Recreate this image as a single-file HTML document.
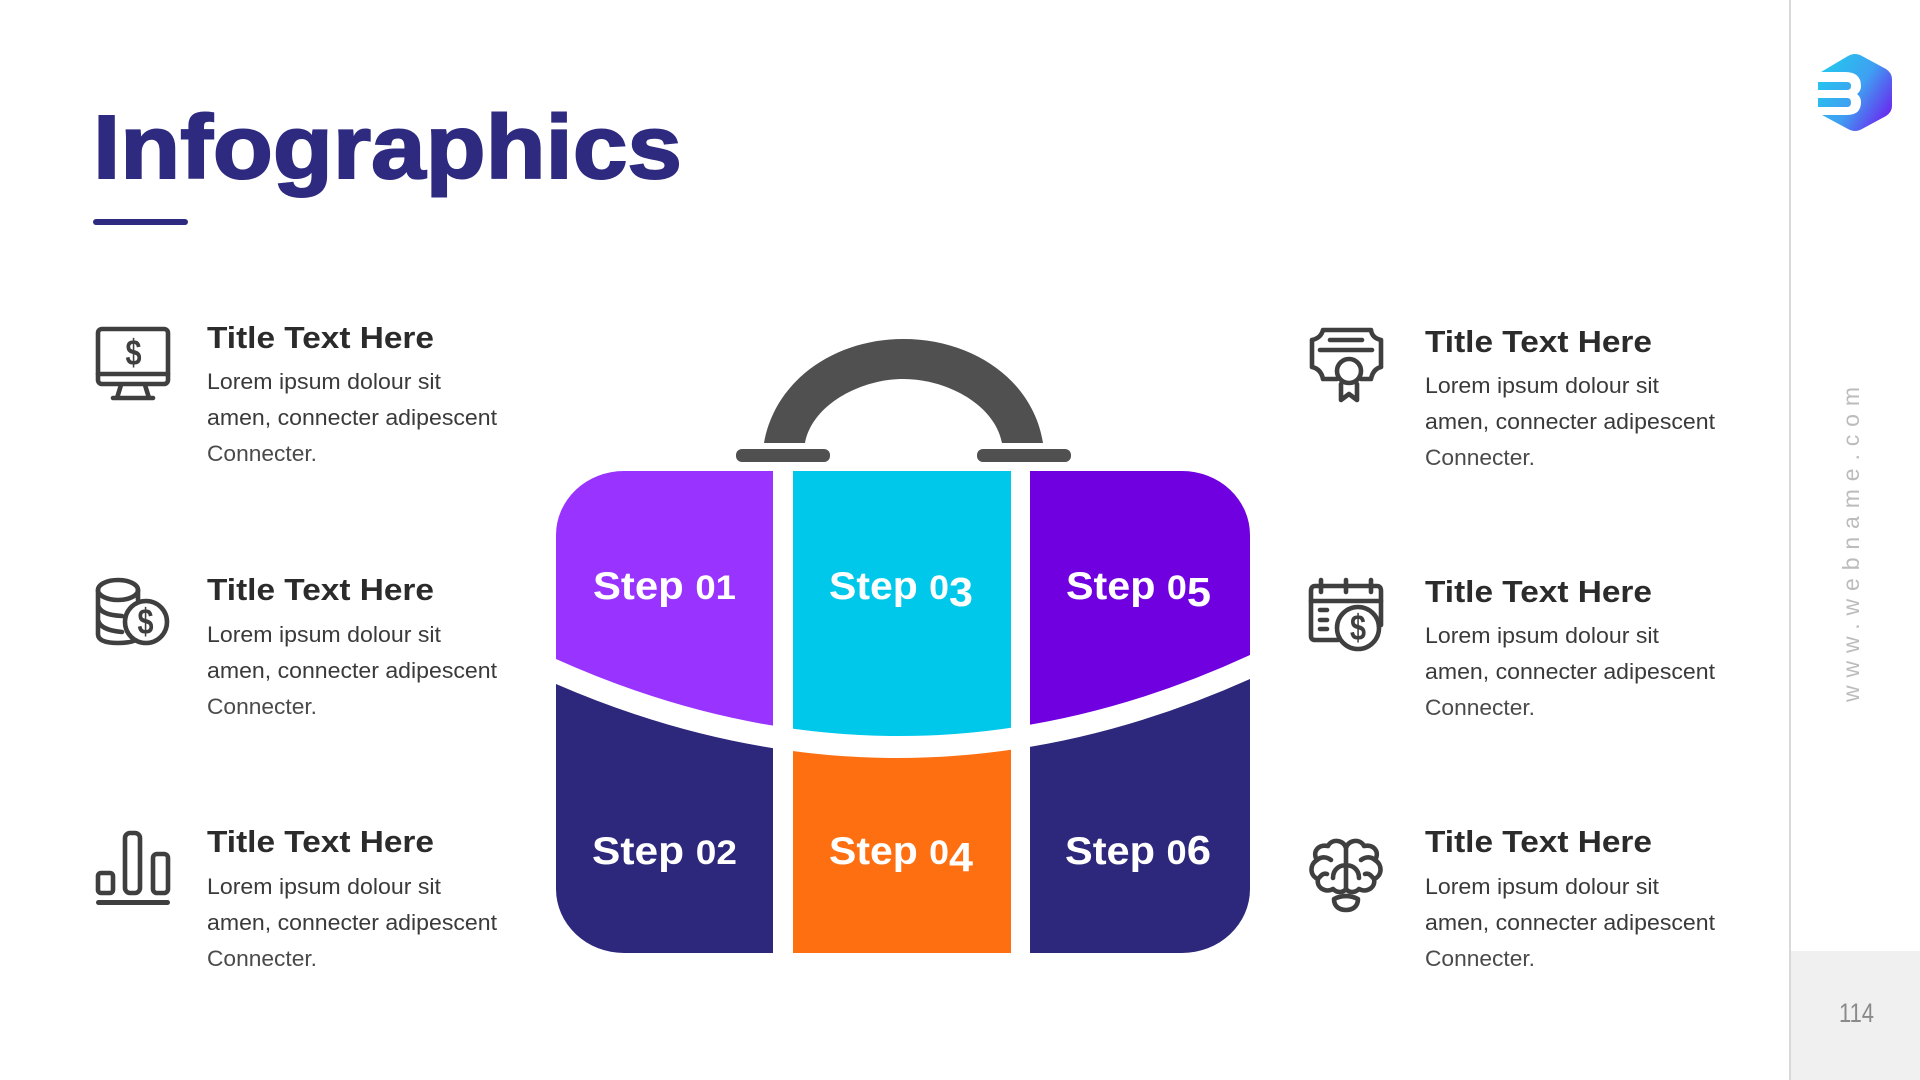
<!DOCTYPE html>
<html><head><meta charset="utf-8"><title>Infographics</title>
<style>
html,body{margin:0;padding:0;background:#fff;width:1920px;height:1080px;overflow:hidden}
svg{display:block}
text{font-family:"Liberation Sans",sans-serif}
.t{font-size:31px;font-weight:700;fill:#2b2b2b}
.b{font-size:22px;fill:#3a3a3a}
.c{font-size:22px;fill:#4a4a4a}
.s{font-size:39px;font-weight:700;fill:#fff}
.d{font-size:34px}
.dl{font-size:41px}
.i{fill:none;stroke:#3f3f3f;stroke-width:4.6;stroke-linecap:round;stroke-linejoin:round}
.m{font-size:36px;font-weight:700;fill:#3f3f3f}
</style></head><body>
<svg width="1920" height="1080" viewBox="0 0 1920 1080" xmlns="http://www.w3.org/2000/svg">
<defs>
<clipPath id="bag"><rect x="556" y="471" width="694" height="482" rx="68" ry="64"/></clipPath>
<clipPath id="top"><path d="M556 471H1250V655Q903 815 556 659Z"/></clipPath>
<clipPath id="bot"><path d="M556 684Q903 834.5 1250 679V953H556Z"/></clipPath>
<linearGradient id="lg" gradientUnits="userSpaceOnUse" x1="1825" y1="70" x2="1892" y2="112"><stop offset="0" stop-color="#25c4ee"/><stop offset=".5" stop-color="#3f9ff2"/><stop offset="1" stop-color="#6a28ee"/></linearGradient>
</defs>
<rect width="1920" height="1080" fill="#fff"/>

<!-- title -->
<text x="93" y="178" font-size="90" font-weight="700" fill="#2e2a80" stroke="#2e2a80" stroke-width="2" textLength="589" lengthAdjust="spacingAndGlyphs">Infographics</text>
<rect x="93" y="219" width="95" height="6" rx="3" fill="#2e2a80"/>

<!-- sidebar -->
<rect x="1789" y="0" width="2" height="1080" fill="#d9d9d9"/>
<rect x="1791" y="951" width="129" height="129" fill="#f0f0f0"/>
<text x="1839" y="1022" font-size="27" fill="#8a8a8a" textLength="35" lengthAdjust="spacingAndGlyphs">114</text>
<text transform="translate(1859,702) rotate(-90)" font-size="23" fill="#bcbcbc" textLength="315" lengthAdjust="spacing">www.webname.com</text>

<!-- logo -->
<path d="M1848 56Q1855 52 1862 56L1886 69Q1892 73 1892 79V106Q1892 112 1886 116L1862 129Q1855 133 1848 129L1822 115L1821 72Z" fill="url(#lg)"/>
<path d="M1810 72H1845Q1861 72 1861 86Q1861 91 1857 94Q1861 97 1861 102Q1861 115 1847 115H1810Z" fill="#fff"/>
<path d="M1818 82H1847Q1851 82 1851 86Q1851 90 1847 90H1818Z" fill="url(#lg)"/>
<path d="M1818 98H1847Q1851 98 1851 102.500Q1851 107 1847 107H1818Z" fill="url(#lg)"/>

<!-- handle -->
<path d="M764 443C775 380 835 339 903.500 339C973 339 1033 380 1043 443H1002C995 405 947 379 903.500 379C860 379 812 405 805 443Z" fill="#505050"/>
<rect x="736" y="449" width="94" height="13" rx="6" fill="#505050"/>
<rect x="977" y="449" width="94" height="13" rx="6" fill="#505050"/>

<!-- bag -->
<g clip-path="url(#bag)">
<g clip-path="url(#top)">
<rect x="556" y="471" width="217" height="300" fill="#9933ff"/>
<rect x="793" y="471" width="218" height="300" fill="#00c8eb"/>
<rect x="1030" y="471" width="220" height="300" fill="#7000e0"/>
</g>
<g clip-path="url(#bot)">
<rect x="556" y="660" width="217" height="293" fill="#2d287c"/>
<rect x="793" y="660" width="218" height="293" fill="#fd6f10"/>
<rect x="1030" y="660" width="220" height="293" fill="#2d287c"/>
</g>
</g>

<text class="s" x="593" y="599" textLength="143" lengthAdjust="spacingAndGlyphs">Step <tspan class="d">01</tspan></text>
<text class="s" x="829" y="599" textLength="144" lengthAdjust="spacingAndGlyphs">Step <tspan class="d">0</tspan><tspan class="dl" dy="7">3</tspan></text>
<text class="s" x="1066" y="599" textLength="145" lengthAdjust="spacingAndGlyphs">Step <tspan class="d">0</tspan><tspan class="dl" dy="7">5</tspan></text>
<text class="s" x="592" y="864" textLength="145" lengthAdjust="spacingAndGlyphs">Step <tspan class="d">02</tspan></text>
<text class="s" x="829" y="864" textLength="144" lengthAdjust="spacingAndGlyphs">Step <tspan class="d">0</tspan><tspan class="dl" dy="7">4</tspan></text>
<text class="s" x="1065" y="864" textLength="146" lengthAdjust="spacingAndGlyphs">Step <tspan class="d">0</tspan><tspan class="dl">6</tspan></text>

<!-- left text -->
<text class="t" x="207" y="348" textLength="227" lengthAdjust="spacingAndGlyphs">Title Text Here</text>
<text class="b" x="207" y="389" textLength="234" lengthAdjust="spacingAndGlyphs">Lorem ipsum dolour sit</text>
<text class="b" x="207" y="425" textLength="290" lengthAdjust="spacingAndGlyphs">amen, connecter adipescent</text>
<text class="c" x="207" y="461" textLength="110" lengthAdjust="spacingAndGlyphs">Connecter.</text>

<text class="t" x="207" y="600" textLength="227" lengthAdjust="spacingAndGlyphs">Title Text Here</text>
<text class="b" x="207" y="642" textLength="234" lengthAdjust="spacingAndGlyphs">Lorem ipsum dolour sit</text>
<text class="b" x="207" y="678" textLength="290" lengthAdjust="spacingAndGlyphs">amen, connecter adipescent</text>
<text class="c" x="207" y="714" textLength="110" lengthAdjust="spacingAndGlyphs">Connecter.</text>

<text class="t" x="207" y="852" textLength="227" lengthAdjust="spacingAndGlyphs">Title Text Here</text>
<text class="b" x="207" y="894" textLength="234" lengthAdjust="spacingAndGlyphs">Lorem ipsum dolour sit</text>
<text class="b" x="207" y="930" textLength="290" lengthAdjust="spacingAndGlyphs">amen, connecter adipescent</text>
<text class="c" x="207" y="966" textLength="110" lengthAdjust="spacingAndGlyphs">Connecter.</text>

<!-- right text -->
<text class="t" x="1425" y="352" textLength="227" lengthAdjust="spacingAndGlyphs">Title Text Here</text>
<text class="b" x="1425" y="393" textLength="234" lengthAdjust="spacingAndGlyphs">Lorem ipsum dolour sit</text>
<text class="b" x="1425" y="429" textLength="290" lengthAdjust="spacingAndGlyphs">amen, connecter adipescent</text>
<text class="c" x="1425" y="465" textLength="110" lengthAdjust="spacingAndGlyphs">Connecter.</text>

<text class="t" x="1425" y="602" textLength="227" lengthAdjust="spacingAndGlyphs">Title Text Here</text>
<text class="b" x="1425" y="643" textLength="234" lengthAdjust="spacingAndGlyphs">Lorem ipsum dolour sit</text>
<text class="b" x="1425" y="679" textLength="290" lengthAdjust="spacingAndGlyphs">amen, connecter adipescent</text>
<text class="c" x="1425" y="715" textLength="110" lengthAdjust="spacingAndGlyphs">Connecter.</text>

<text class="t" x="1425" y="852" textLength="227" lengthAdjust="spacingAndGlyphs">Title Text Here</text>
<text class="b" x="1425" y="894" textLength="234" lengthAdjust="spacingAndGlyphs">Lorem ipsum dolour sit</text>
<text class="b" x="1425" y="930" textLength="290" lengthAdjust="spacingAndGlyphs">amen, connecter adipescent</text>
<text class="c" x="1425" y="966" textLength="110" lengthAdjust="spacingAndGlyphs">Connecter.</text>

<!-- monitor -->
<rect class="i" x="98" y="329" width="70" height="55" rx="4"/>
<path class="i" d="M98 374H168M121 385L117 398M145 385L149 398M113 398H153"/>
<text class="m" x="125.500" y="365" textLength="16" lengthAdjust="spacingAndGlyphs">$</text>

<!-- coins -->
<ellipse class="i" cx="118" cy="590" rx="20" ry="10"/>
<path class="i" d="M98 590V634Q98 643 118 643Q130 643 136 640M98 605Q100 615 122 616M98 620Q100 630 122 632M138 590V600"/>
<circle class="i" cx="146" cy="622" r="21" style="fill:#fff"/>
<text class="m" x="137.500" y="634" textLength="16" lengthAdjust="spacingAndGlyphs">$</text>

<!-- bars -->
<rect class="i" x="98" y="873" width="15" height="20" rx="3"/>
<rect class="i" x="125" y="833" width="15" height="60" rx="5"/>
<rect class="i" x="153" y="854" width="15" height="39" rx="4"/>
<path d="M98.500 902.500H167.500" fill="none" stroke="#3f3f3f" stroke-width="5" stroke-linecap="round"/>

<!-- certificate -->
<path class="i" d="M1337 379H1323Q1321 369 1312 367V340Q1321 338 1323 330H1371Q1372 338 1381 340V367Q1373 369 1371 379H1361"/>
<path class="i" d="M1330 340H1362M1320 350H1372"/>
<circle class="i" cx="1349" cy="371" r="12"/>
<path class="i" d="M1341 384V400L1349 394L1357 400V384"/>

<!-- calendar -->
<path class="i" d="M1315 586H1377Q1381 586 1381 591V625M1315 586Q1311 586 1311 591V636Q1311 640 1315 640H1338"/>
<path class="i" d="M1311 601H1381M1321 580V592M1346 580V592M1371 580V592M1320 610H1327M1320 620H1327M1320 629H1327"/>
<circle class="i" cx="1358" cy="628" r="21" style="fill:#fff"/>
<text class="m" x="1350" y="640" textLength="16" lengthAdjust="spacingAndGlyphs">$</text>

<!-- brain -->
<path class="i" d="M1346 848C1344 840 1332 838 1328 846C1318 844 1312 852 1317 860C1309 865 1310 876 1318 879C1316 888 1326 893 1333 889C1337 893 1343 893 1346 889C1349 893 1355 893 1359 889C1366 893 1376 888 1374 879C1382 876 1383 865 1375 860C1380 852 1374 844 1364 846C1360 838 1348 840 1346 848V889"/>
<path class="i" d="M1333 878C1333 868 1342 864 1346 866C1350 864 1359 868 1359 878M1317 860C1322 856 1327 857 1331 860M1375 860C1370 856 1365 857 1361 860M1318 879C1322 874 1324 873 1327 874M1374 879C1370 874 1368 873 1365 874"/>
<path class="i" d="M1334 899Q1346 893 1358 899C1358 907 1352 910 1346 910C1340 910 1334 907 1334 899Z"/>
</svg>
</body></html>
